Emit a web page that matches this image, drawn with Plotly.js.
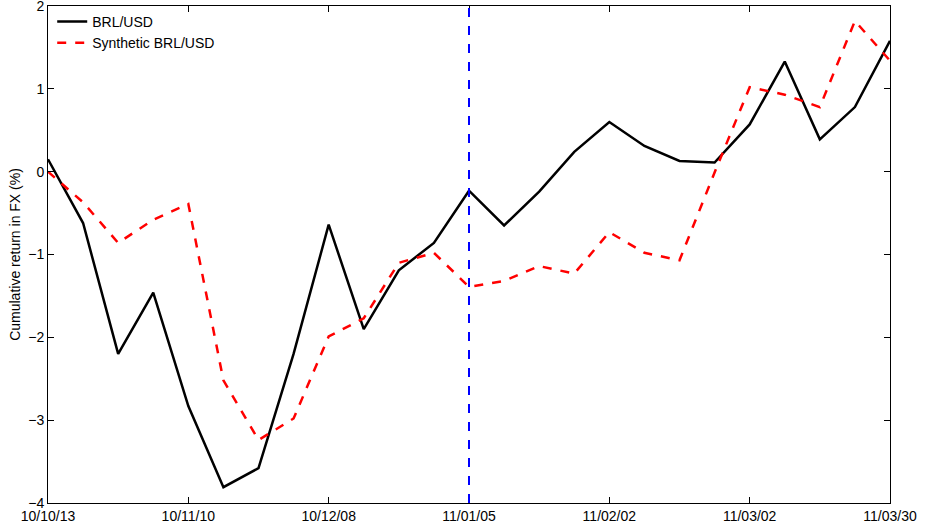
<!DOCTYPE html>
<html>
<head>
<meta charset="utf-8">
<script src="https://cdn.plot.ly/plotly-3.0.1.min.js"></script>
<style>body{margin:0;background:#fff}#chart{width:928px;height:526px}</style>
</head>
<body>
<div id="chart"></div>
<script>
// weekly dates from 2010-10-13
const dates = [];
for (let k = 0; k < 25; k++) {
    const d = new Date(Date.UTC(2010, 9, 13 + 7 * k));
    dates.push(d.toISOString().slice(0, 10));
}
const brl = [0.15, -0.62, -2.2, -1.46, -2.83, -3.81, -3.58, -2.2, -0.64, -1.9, -1.19, -0.86, -0.23,
    -0.65, -0.24, 0.24, 0.6, 0.31, 0.13, 0.11, 0.57, 1.33, 0.39, 0.78, 1.58];
const synth = [0.0, -0.37, -0.86, -0.58, -0.39, -2.52, -3.24, -2.98, -1.99, -1.77, -1.1, -0.98, -1.39,
    -1.32, -1.14, -1.23, -0.73, -0.98, -1.07, -0.01, 1.02, 0.93, 0.78, 1.82, 1.34];
const tickDates = ['2010-10-13', '2010-11-10', '2010-12-08', '2011-01-05', '2011-02-02', '2011-03-02', '2011-03-30'];
const tickLabels = ['10/10/13', '10/11/10', '10/12/08', '11/01/05', '11/02/02', '11/03/02', '11/03/30'];
const yTicks = [-4, -3, -2, -1, 0, 1, 2];
const yLabels = ['\u22124', '\u22123', '\u22122', '\u22121', '0', '1', '2'];
const eventDate = '2011-01-05';

const data = [
    { x: dates, y: brl, name: 'BRL/USD', mode: 'lines', line: { color: 'black', width: 2.5 } },
    { x: dates, y: synth, name: 'Synthetic BRL/USD', mode: 'lines', line: { color: '#ff0000', width: 2.5, dash: 'dash' } }
];

const layout = {
    width: 928, height: 526,
    margin: { l: 48, r: 38, t: 6, b: 23 },
    paper_bgcolor: 'white', plot_bgcolor: 'white',
    font: { family: 'Liberation Sans, Arial', size: 14, color: 'black' },
    showlegend: true,
    legend: { x: 0.005, y: 1, xanchor: 'left', yanchor: 'top', bgcolor: 'rgba(0,0,0,0)', font: { size: 14 } },
    xaxis: {
        type: 'date', range: [dates[0], dates[24]], tickvals: tickDates, ticktext: tickLabels,
        showgrid: false, zeroline: false, showline: true, mirror: 'ticks', linecolor: 'black',
        ticks: 'inside', ticklen: 6, tickcolor: 'black', ticklabeloverflow: 'allow'
    },
    yaxis: {
        range: [-4.0005, 2.0005], tickvals: yTicks, ticktext: yLabels, ticklabeloverflow: 'allow',
        title: { text: 'Cumulative return in FX (%)', standoff: 4, font: { size: 14 } },
        showgrid: false, zeroline: false, showline: true, mirror: 'ticks', linecolor: 'black',
        ticks: 'inside', ticklen: 6, tickcolor: 'black'
    },
    shapes: [{
        type: 'line', xref: 'x', yref: 'paper', x0: eventDate, x1: eventDate, y0: 0, y1: 1,
        line: { color: 'blue', width: 2, dash: 'dash' }
    }]
};

Plotly.newPlot('chart', data, layout, { displayModeBar: false });
</script>
</body>
</html>
